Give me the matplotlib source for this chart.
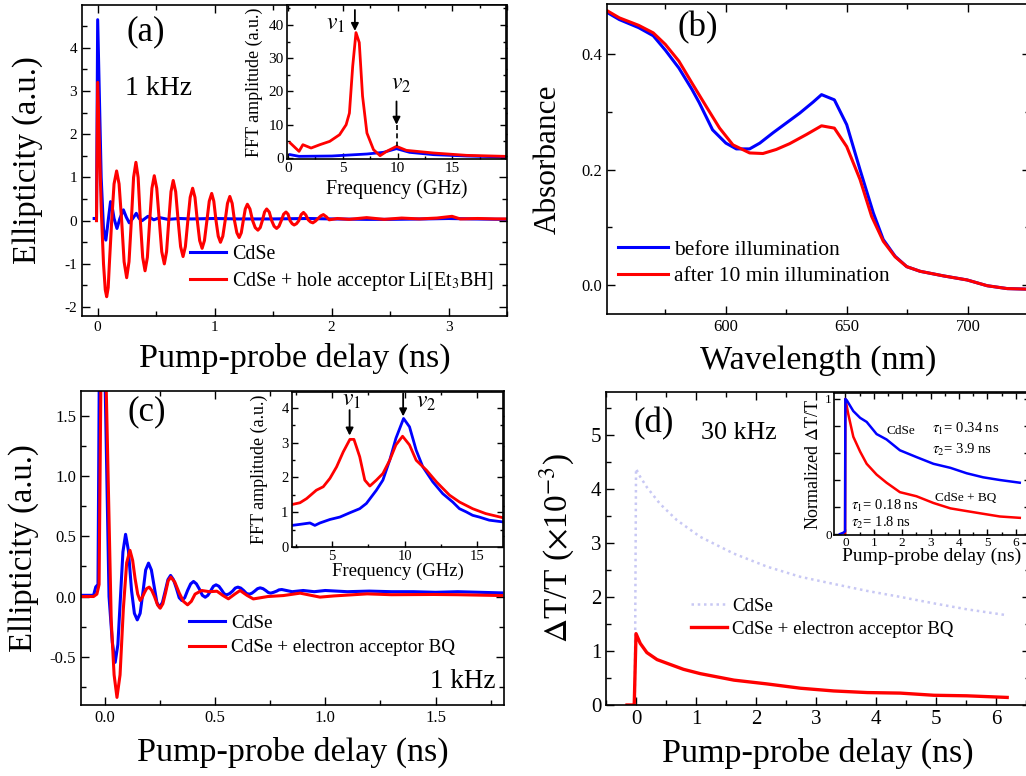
import matplotlib
matplotlib.use('Agg')
import matplotlib.pyplot as plt
from matplotlib.ticker import MultipleLocator, FixedLocator, FixedFormatter

plt.rcParams['font.family'] = ['Liberation Serif', 'DejaVu Serif']
plt.rcParams['mathtext.fontset'] = 'stix'
plt.rcParams['axes.unicode_minus'] = False

# ---------------- data ----------------
# (a) ellipticity, 1 kHz
a_t_cdse = [-0.03, -0.01, 0.0, 0.03, 0.05, 0.07, 0.09, 0.11, 0.125, 0.14, 0.165, 0.19, 0.22,
            0.245, 0.27, 0.3, 0.33, 0.355, 0.38, 0.43, 0.48, 0.53, 0.6, 0.7, 0.8, 1.0, 1.2,
            1.5, 1.8, 2.0, 2.3, 2.5, 2.8, 3.0, 3.2, 3.5]
a_v_cdse = [0.05, 0.05, 4.65, 1.0, -0.2, -0.45, 0.0, 0.44, 0.3, 0.05, -0.18, 0.05, 0.25,
            0.08, -0.05, 0.05, 0.17, 0.05, 0.0, 0.1, 0.02, 0.07, 0.03, 0.05, 0.04, 0.05, 0.04,
            0.04, 0.05, 0.04, 0.03, 0.03, 0.04, 0.05, 0.04, 0.03]
a_t_hole = [-0.01, 0.0, 0.03, 0.05, 0.065, 0.077, 0.09, 0.1, 0.12, 0.14, 0.162, 0.183, 0.205,
            0.226, 0.248, 0.268, 0.288, 0.307, 0.327, 0.346, 0.365, 0.385, 0.405, 0.425,
            0.445, 0.464, 0.484, 0.505, 0.527, 0.548, 0.57, 0.589, 0.608, 0.627, 0.646,
            0.667, 0.688, 0.709, 0.73, 0.75, 0.771, 0.791, 0.812, 0.832, 0.852, 0.872, 0.893,
            0.913, 0.934, 0.954, 0.975, 0.993, 1.012, 1.031, 1.05, 1.07, 1.09, 1.11, 1.13,
            1.15, 1.17, 1.19, 1.21, 1.228, 1.245, 1.262, 1.28, 1.302, 1.325, 1.347, 1.37,
            1.39, 1.408, 1.427, 1.445, 1.467, 1.488, 1.509, 1.53, 1.55, 1.57, 1.59, 1.61,
            1.628, 1.645, 1.663, 1.68, 1.7, 1.72, 1.74, 1.76, 1.78, 1.80, 1.82, 1.84, 1.862,
            1.885, 1.908, 1.93, 1.955, 1.98, 2.05, 2.15, 2.3, 2.45, 2.6, 2.75, 2.9, 3.03,
            3.1, 3.25, 3.4, 3.5]
a_v_hole = [0.0, 3.2, 0.3, -1.0, -1.6, -1.76, -1.55, -1.0, 0.0, 0.85, 1.15, 0.85, 0.0,
            -0.95, -1.32, -0.95, 0.0, 1.0, 1.35, 1.0, 0.0, -0.85, -1.16, -0.85,
            0.0, 0.75, 1.04, 0.75, 0.0, -0.72, -1.0, -0.72, 0.0, 0.67, 0.93,
            0.67, 0.0, -0.6, -0.83, -0.6, 0.0, 0.54, 0.75, 0.54, 0.0, -0.46, -0.64,
            -0.46, 0.0, 0.45, 0.63, 0.45, 0.0, -0.36, -0.5, -0.36, 0.0, 0.4, 0.56,
            0.4, 0.0, -0.28, -0.39, -0.28, 0.0, 0.27, 0.38, 0.27, 0.0, -0.16, -0.22,
            -0.16, 0.0, 0.2, 0.27, 0.2, 0.0, -0.13, -0.18, -0.13, 0.0, 0.15, 0.2,
            0.15, 0.0, -0.07, -0.1, -0.07, 0.0, 0.14, 0.19, 0.13, 0.02, -0.03, -0.05, -0.01,
            0.05, 0.11, 0.14, 0.09, 0.02, 0.05, 0.03, 0.07, 0.03, 0.06, 0.04, 0.06, 0.1,
            0.04, 0.05, 0.04, 0.04]

# (a) inset FFT
fa_f_cdse = [0.2, 1.0, 4.0, 7.2, 8.7, 9.9, 11.1, 13.3, 16.3, 19.8]
fa_v_cdse = [1.0, 0.5, 0.6, 1.2, 1.7, 2.8, 1.7, 1.0, 0.6, 0.3]
fa_f_hole = [0.2, 1.0, 1.35, 2.1, 2.9, 3.8, 4.7, 5.3, 5.6, 5.9, 6.2, 6.5, 6.8, 7.2, 7.8,
             8.4, 9.0, 9.9, 10.8, 13.3, 16.3, 19.8]
fa_v_hole = [4.5, 2.0, 4.0, 3.0, 4.0, 5.0, 7.0, 10.0, 13.5, 27.6, 37.7, 34.7, 18.6, 7.5, 2.5,
             0.7, 2.0, 3.5, 2.3, 1.5, 0.8, 0.5]

# (b) absorbance
b_wl_before = [550.7, 556, 564, 570, 575, 580.6, 586, 589, 594.5, 600, 604.3, 609.8, 614,
               619.5, 625, 630.5, 636, 639.5, 644.8, 649.9, 655.4, 660.9, 665, 669.9, 674.7,
               680.2, 689.9, 699.6, 707.9, 716.2, 725]
b_ab_before = [0.473, 0.460, 0.446, 0.432, 0.407, 0.376, 0.339, 0.316, 0.269, 0.246, 0.236,
               0.236, 0.246, 0.264, 0.281, 0.298, 0.317, 0.330, 0.321, 0.278, 0.200, 0.125,
               0.079, 0.050, 0.032, 0.024, 0.016, 0.009, -0.001, -0.006, -0.007]
b_wl_after = [550.7, 556, 564, 570, 575, 580.6, 586, 591.8, 597.4, 602.9, 609.8, 615.3, 620.8,
              626.3, 633.3, 639.5, 644.8, 649.9, 655.4, 660.2, 665, 669.9, 674.7, 680.2, 689.9,
              699.6, 707.9, 716.2, 725]
b_ab_after = [0.476, 0.463, 0.450, 0.437, 0.417, 0.388, 0.350, 0.310, 0.272, 0.243, 0.229,
              0.228, 0.235, 0.245, 0.261, 0.276, 0.272, 0.240, 0.183, 0.119, 0.076, 0.049,
              0.032, 0.024, 0.016, 0.009, -0.001, -0.006, -0.007]

# (c) ellipticity with BQ
c_t_cdse = [-0.1, -0.05, -0.04, -0.03, -0.015, 0.0, 0.02, 0.035, 0.048, 0.06, 0.072, 0.083,
            0.095, 0.108, 0.122, 0.135, 0.148, 0.161, 0.174, 0.186, 0.199, 0.212, 0.224,
            0.237, 0.249, 0.262, 0.274, 0.287, 0.299, 0.312, 0.325, 0.338, 0.35, 0.363,
            0.376, 0.39, 0.403, 0.416, 0.43, 0.443, 0.456, 0.468, 0.48, 0.493, 0.505, 0.518,
            0.53, 0.542, 0.554, 0.567, 0.58, 0.592, 0.604, 0.617, 0.63, 0.643, 0.656, 0.668,
            0.68, 0.693, 0.705, 0.718, 0.73, 0.742, 0.753, 0.766, 0.78, 0.79, 0.803, 0.85,
            0.9, 0.95, 1.0, 1.1, 1.2, 1.3, 1.4, 1.5, 1.6, 1.7, 1.8]
c_v_cdse = [0.01, 0.01, 0.08, 0.1, 4.6, 2.0, 0.0, -0.38, -0.546, -0.4, 0.0, 0.37,
            0.516, 0.38, 0.05, -0.14, -0.194, -0.14, 0.04, 0.22, 0.277, 0.22, 0.09,
            -0.05, -0.089, -0.05, 0.04, 0.14, 0.175, 0.14, 0.07, -0.01, -0.033, -0.01,
            0.05, 0.105, 0.125, 0.105, 0.06, 0.01, -0.006, 0.01, 0.045, 0.085, 0.097, 0.085,
            0.055, 0.022, 0.014, 0.025, 0.045, 0.07, 0.078, 0.07, 0.05, 0.025, 0.019, 0.028,
            0.045, 0.065, 0.072, 0.065, 0.05, 0.033, 0.028, 0.035, 0.045, 0.055, 0.058, 0.04,
            0.05, 0.04, 0.05, 0.04, 0.045, 0.04, 0.04, 0.035, 0.04, 0.035, 0.03]
c_t_bq = [-0.1, -0.05, -0.035, -0.025, -0.01, 0.01, 0.03, 0.043, 0.056, 0.07, 0.085, 0.1,
          0.115, 0.127, 0.138, 0.15, 0.161, 0.17, 0.18, 0.19, 0.202, 0.214, 0.226, 0.24,
          0.252, 0.264, 0.276, 0.288, 0.30, 0.318, 0.338, 0.357, 0.376, 0.393, 0.41, 0.44,
          0.475, 0.509, 0.535, 0.561, 0.59, 0.614, 0.645, 0.674, 0.74, 0.81, 0.886, 0.976,
          1.04, 1.19, 1.3, 1.49, 1.6, 1.8]
c_v_bq = [0.0, 0.0, 0.02, 0.1, 3.2, 1.5, -0.2, -0.65, -0.837, -0.65, -0.1, 0.28,
          0.383, 0.3, 0.15, 0.02, -0.033, -0.01, 0.03, 0.065, 0.078, 0.05, 0.0, -0.07,
          -0.097, -0.06, 0.03, 0.13, 0.161, 0.12, 0.03, -0.04, -0.069, -0.04, 0.02, 0.05,
          0.04, 0.044, 0.01, -0.019, 0.02, 0.05, 0.01, -0.02, 0.0, 0.008, 0.028, -0.005,
          0.005, 0.022, 0.015, 0.017, 0.015, 0.008]

# (c) inset FFT
fc_f_cdse = [2.22, 2.77, 3.46, 3.8, 4.15, 4.84, 5.53, 6.2, 6.9, 7.36, 8.05, 8.5, 8.97, 9.4,
             9.93, 10.34, 10.8, 11.26, 11.95, 12.64, 13.33, 13.79, 14.25, 14.7, 15.16, 15.85, 16.8]
fc_v_cdse = [0.62, 0.65, 0.69, 0.62, 0.69, 0.79, 0.86, 0.98, 1.1, 1.25, 1.63, 1.92, 2.49, 3.12,
             3.69, 3.45, 2.78, 2.30, 1.87, 1.53, 1.29, 1.10, 1.01, 0.91, 0.86, 0.77, 0.72]
fc_f_bq = [2.22, 2.77, 3.23, 3.9, 4.38, 4.84, 5.3, 5.76, 6.22, 6.5, 6.9, 7.25, 7.6, 8.05, 8.5,
           8.97, 9.4, 9.86, 10.34, 10.8, 11.5, 12.2, 13.1, 13.8, 14.7, 15.6, 16.8]
fc_v_bq = [1.22, 1.27, 1.39, 1.63, 1.73, 1.97, 2.3, 2.73, 3.09, 3.09, 2.59, 1.92, 1.75, 1.92,
           2.11, 2.49, 2.93, 3.18, 2.93, 2.49, 2.21, 1.87, 1.49, 1.29, 1.10, 0.96, 0.84]

# (d) differential transmission, 30 kHz
d_t_cdse = [-0.02, 0.0, 0.07, 0.18, 0.4, 0.68, 1.07, 1.63, 2.18, 2.74, 3.29, 3.85, 4.4, 4.96,
            5.51, 6.18]
d_v_cdse = [0.0, 4.37, 4.22, 4.03, 3.72, 3.42, 3.11, 2.80, 2.56, 2.37, 2.24, 2.11, 2.0, 1.88,
            1.77, 1.66]
d_t_bq = [-0.15, -0.03, 0.0, 0.07, 0.18, 0.35, 0.52, 0.79, 1.07, 1.63, 2.18, 2.74, 3.29, 3.85,
          4.4, 4.96, 5.51, 6.18]
d_v_bq = [0.0, 0.0, 1.32, 1.14, 0.97, 0.84, 0.77, 0.66, 0.58, 0.46, 0.39, 0.31, 0.26, 0.23,
          0.22, 0.18, 0.17, 0.14]

# (d) inset, normalized
dn_t_cdse = [-0.19, -0.07, -0.01, 0.0, 0.05, 0.28, 0.52, 0.75, 1.1, 1.45, 1.92, 2.5, 3.1, 3.7,
             4.27, 4.85, 5.44, 6.14]
dn_v_cdse = [0.0, 0.01, 0.02, 1.0, 0.99, 0.91, 0.86, 0.83, 0.74, 0.70, 0.62, 0.57, 0.52, 0.49,
             0.45, 0.42, 0.40, 0.38]
dn_t_bq = [-0.01, 0.0, 0.1, 0.28, 0.52, 0.75, 1.1, 1.45, 1.92, 2.5, 3.1, 3.7, 4.27, 4.85, 5.44,
           6.14]
dn_v_bq = [0.0, 1.0, 0.89, 0.72, 0.61, 0.52, 0.44, 0.38, 0.31, 0.28, 0.23, 0.19, 0.17, 0.15,
           0.13, 0.12]

BLUE = '#0000ff'
RED = '#ff0000'
W, H = 1026, 776


def box(x0, y0, x1, y1):
    # pixel box -> figure fraction
    return [x0 / W, 1 - y1 / H, (x1 - x0) / W, (y1 - y0) / H]


def style(ax, size, major=6, minor=3.5, pad=3.5):
    ax.tick_params(which='both', direction='in', top=True, right=True, labelsize=size,
                   width=1.0, pad=pad)
    ax.tick_params(which='major', length=major)
    ax.tick_params(which='minor', length=minor)
    for s in ax.spines.values():
        s.set_linewidth(1.2)


def nu_arrow(ax, x, y0, y1):
    ax.annotate('', xy=(x, y1), xytext=(x, y0),
                arrowprops=dict(arrowstyle='-|>', color='k', lw=1.3, mutation_scale=11,
                                shrinkA=0, shrinkB=0))


fig = plt.figure(figsize=(10.26, 7.76), dpi=100)

# ---------------- (a) ----------------
ax1 = fig.add_axes(box(82, 5, 507, 316))
ax1.plot(a_t_cdse, a_v_cdse, color=BLUE, lw=2.2, label='CdSe')
ax1.plot(a_t_hole, a_v_hole, color=RED, lw=2.2, label='CdSe + hole acceptor Li[Et$_3$BH]')
ax1.set_xlim(-0.134, 3.5)
ax1.set_ylim(-2.206, 4.99)
ax1.xaxis.set_major_locator(MultipleLocator(1))
ax1.xaxis.set_minor_locator(MultipleLocator(0.5))
ax1.yaxis.set_major_locator(MultipleLocator(1))
ax1.yaxis.set_minor_locator(MultipleLocator(0.5))
style(ax1, 11)
ax1.set_xlabel('Pump-probe delay (ns)', fontsize=24.5)
ax1.set_ylabel('Ellipticity (a.u.)', fontsize=23.5)
ax1.xaxis.set_label_coords(0.5, -0.085)
ax1.yaxis.set_label_coords(-0.092, 0.5)
ax1.text(0.104, 0.913, '(a)', transform=ax1.transAxes, fontsize=25, va='center')
ax1.text(0.101, 0.733, '1 kHz', transform=ax1.transAxes, fontsize=20, va='center')
ax1.legend(loc='lower left', bbox_to_anchor=(0.255, 0.075), frameon=False, fontsize=14.4,
           handlelength=1.8, handletextpad=0.3, labelspacing=0.3, borderpad=0, borderaxespad=0)

ia = fig.add_axes(box(287, 5, 506, 159))
ia.plot(fa_f_cdse, fa_v_cdse, color=BLUE, lw=2.0)
ia.plot(fa_f_hole, fa_v_hole, color=RED, lw=2.0)
ia.set_xlim(-0.1, 19.9)
ia.set_ylim(-0.3, 46)
ia.xaxis.set_major_locator(MultipleLocator(5))
ia.xaxis.set_minor_locator(MultipleLocator(2.5))
ia.yaxis.set_major_locator(MultipleLocator(10))
ia.yaxis.set_minor_locator(MultipleLocator(5))
style(ia, 11, 4, 2.5, 2.5)
ia.set_xlabel('Frequency (GHz)', fontsize=14.5)
ia.set_ylabel('FFT amplitude (a.u.)', fontsize=13)
ia.xaxis.set_label_coords(0.5, -0.13)
ia.yaxis.set_label_coords(-0.11, 0.5)
nu_arrow(ia, 6.1, 44.5, 38.2)
nu_arrow(ia, 9.9, 17.0, 10.0)
ia.plot([9.9, 9.9], [10.0, 3.5], color='k', lw=1.2, ls=(0, (3, 2)))
ia.text(4.3, 40, '$v_1$', fontsize=17, ha='center', va='center')
ia.text(10.3, 22, '$v_2$', fontsize=17, ha='center', va='center')

# ---------------- (b) ----------------
ax2 = fig.add_axes(box(607, 4, 1030, 314))
ax2.plot(b_wl_before, b_ab_before, color=BLUE, lw=2.2, label='before illumination')
ax2.plot(b_wl_after, b_ab_after, color=RED, lw=2.2, label='after 10 min illumination')
ax2.set_xlim(550.9, 725.6)
ax2.set_ylim(-0.05, 0.487)
ax2.xaxis.set_major_locator(MultipleLocator(50))
ax2.xaxis.set_minor_locator(MultipleLocator(25))
ax2.yaxis.set_major_locator(MultipleLocator(0.2))
ax2.yaxis.set_minor_locator(MultipleLocator(0.1))
style(ax2, 12)
ax2.set_xlabel('Wavelength (nm)', fontsize=24.5)
ax2.set_ylabel('Absorbance', fontsize=22.5)
ax2.xaxis.set_label_coords(0.5, -0.1)
ax2.yaxis.set_label_coords(-0.105, 0.5)
ax2.text(0.167, 0.923, '(b)', transform=ax2.transAxes, fontsize=25, va='center')
ax2.legend(loc='lower left', bbox_to_anchor=(0.027, 0.09), frameon=False, fontsize=15.5,
           handlelength=2.3, handletextpad=0.3, labelspacing=0.3, borderpad=0, borderaxespad=0)

# ---------------- (c) ----------------
ax3 = fig.add_axes(box(81, 391, 504, 705))
ax3.plot(c_t_cdse, c_v_cdse, color=BLUE, lw=2.2, label='CdSe')
ax3.plot(c_t_bq, c_v_bq, color=RED, lw=2.2, label='CdSe + electron acceptor BQ')
ax3.set_xlim(-0.107, 1.81)
ax3.set_ylim(-0.9, 1.705)
ax3.xaxis.set_major_locator(MultipleLocator(0.5))
ax3.xaxis.set_minor_locator(MultipleLocator(0.25))
ax3.yaxis.set_major_locator(MultipleLocator(0.5))
ax3.yaxis.set_minor_locator(MultipleLocator(0.25))
style(ax3, 12)
ax3.set_xlabel('Pump-probe delay (ns)', fontsize=24.5)
ax3.set_ylabel('Ellipticity (a.u.)', fontsize=23.5)
ax3.xaxis.set_label_coords(0.5, -0.1)
ax3.yaxis.set_label_coords(-0.1, 0.5)
ax3.text(0.111, 0.934, '(c)', transform=ax3.transAxes, fontsize=25, va='center')
ax3.text(0.979, 0.074, '1 kHz', transform=ax3.transAxes, fontsize=19.5, va='center', ha='right')
ax3.legend(loc='lower left', bbox_to_anchor=(0.255, 0.155), frameon=False, fontsize=13.8,
           handlelength=1.9, handletextpad=0.3, labelspacing=0.35, borderpad=0, borderaxespad=0)

ic = fig.add_axes(box(292, 392, 503, 547))
ic.plot(fc_f_cdse, fc_v_cdse, color=BLUE, lw=2.0)
ic.plot(fc_f_bq, fc_v_bq, color=RED, lw=2.0)
ic.set_xlim(2.22, 16.8)
ic.set_ylim(0, 4.45)
ic.xaxis.set_major_locator(MultipleLocator(5))
ic.xaxis.set_minor_locator(MultipleLocator(2.5))
ic.yaxis.set_major_locator(MultipleLocator(1))
ic.yaxis.set_minor_locator(MultipleLocator(0.5))
style(ic, 10.5, 4, 2.5, 2.5)
ic.set_xlabel('Frequency (GHz)', fontsize=13.5)
ic.set_ylabel('FFT amplitude (a.u.)', fontsize=13)
ic.xaxis.set_label_coords(0.5, -0.1)
ic.yaxis.set_label_coords(-0.114, 0.5)
nu_arrow(ic, 6.2, 3.93, 3.2)
nu_arrow(ic, 9.9, 4.41, 3.75)
ic.text(6.3, 4.2, '$v_1$', fontsize=17, ha='center', va='center')
ic.text(11.5, 4.15, '$v_2$', fontsize=17, ha='center', va='center')

# ---------------- (d) ----------------
ax4 = fig.add_axes(box(606, 392, 1030, 705))
ax4.plot(d_t_cdse, d_v_cdse, color='#c8c8f4', lw=1.8, ls=(0, (1, 1.5)), label='CdSe')
ax4.plot(d_t_bq, d_v_bq, color=RED, lw=2.4, label='CdSe + electron acceptor BQ')
ax4.set_xlim(-0.5, 6.56)
ax4.set_ylim(0, 5.79)
ax4.xaxis.set_major_locator(MultipleLocator(1))
ax4.xaxis.set_minor_locator(MultipleLocator(0.5))
ax4.yaxis.set_major_locator(MultipleLocator(1))
ax4.yaxis.set_minor_locator(MultipleLocator(0.5))
style(ax4, 15)
ax4.set_xlabel('Pump-probe delay (ns)', fontsize=24.5)
ax4.set_ylabel(r'$\Delta$T/T ($\times$10$^{-3}$)', fontsize=24)
ax4.xaxis.set_label_coords(0.5, -0.105)
ax4.yaxis.set_label_coords(-0.069, 0.5)
ax4.text(0.064, 0.9, '(d)', transform=ax4.transAxes, fontsize=25, va='center')
ax4.text(0.224, 0.869, '30 kHz', transform=ax4.transAxes, fontsize=18.7, va='center')
ax4.legend(loc='lower left', bbox_to_anchor=(0.2, 0.215), frameon=False, fontsize=13.6,
           handlelength=1.9, handletextpad=0.3, labelspacing=0.3, borderpad=0, borderaxespad=0)

idd = fig.add_axes(box(834, 393, 1030, 535))
idd.plot(dn_t_bq, dn_v_bq, color=RED, lw=1.8)
idd.plot(dn_t_cdse, dn_v_cdse, color=BLUE, lw=1.8)
idd.set_xlim(-0.4, 6.5)
idd.set_ylim(-0.007, 1.044)
idd.xaxis.set_major_locator(MultipleLocator(1))
idd.xaxis.set_minor_locator(MultipleLocator(0.5))
idd.yaxis.set_major_locator(FixedLocator([0, 0.2, 0.4, 0.6, 0.8, 1.0]))
idd.yaxis.set_major_formatter(FixedFormatter(['0', '', '', '', '', '1']))
style(idd, 9.5, 4, 2.5, 1.5)
idd.set_xlabel('Pump-probe delay (ns)', fontsize=14)
idd.set_ylabel(r'Normalized $\Delta$T/T', fontsize=13)
idd.xaxis.set_label_coords(0.5, -0.09)
idd.yaxis.set_label_coords(-0.0625, 0.5)
idd.text(1.46, 0.765, 'CdSe', fontsize=9.5, va='center')
idd.text(3.04, 0.78, r'$\tau_1$= 0.34 ns', fontsize=10.5, va='center')
idd.text(3.04, 0.62, r'$\tau_2$= 3.9 ns', fontsize=10.5, va='center')
idd.text(3.16, 0.27, 'CdSe + BQ', fontsize=9.5, va='center')
idd.text(0.2, 0.21, r'$\tau_1$= 0.18 ns', fontsize=10.5, va='center')
idd.text(0.2, 0.08, r'$\tau_2$= 1.8 ns', fontsize=10.5, va='center')

plt.savefig('out.png', dpi=100)
